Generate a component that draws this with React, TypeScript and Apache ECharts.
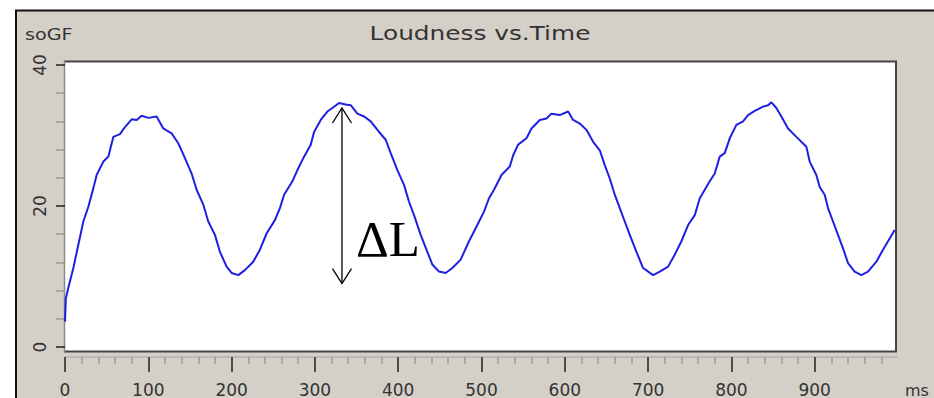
import React, { useEffect, useRef } from "react";
import * as echarts from "echarts";

// Loudness trace (soGF) sampled along time (ms)
const timeMs = [
  0, 1, 4, 10, 16, 22, 28, 34, 38, 46, 52, 58, 66, 72, 80, 86, 92, 100, 110, 118,
  128, 136, 144, 152, 158, 166, 172, 180, 186, 194, 200, 208, 216, 226, 234, 242, 252, 258, 263, 273,
  279, 287, 295, 299, 307, 315, 321, 329, 337, 343, 351, 359, 367, 377, 385, 391, 399, 407, 413, 419,
  427, 435, 441, 449, 457, 465, 475, 485, 495, 503, 509, 515, 524, 534, 538, 544, 554, 560, 570, 578,
  584, 594, 604, 610, 618, 626, 634, 642, 648, 654, 660, 666, 672, 678, 686, 694, 706, 714, 724, 732,
  740, 748, 756, 762, 768, 774, 780, 786, 792, 798, 806, 814, 820, 828, 838, 844, 848, 854, 860, 868,
  878, 890, 894, 902, 906, 912, 916, 922, 928, 934, 940, 948, 956, 964, 974, 982, 990, 996,
];
const loudness = [
  3.6, 6.9, 8.4, 11.2, 14.5, 17.8, 19.9, 22.5, 24.4, 26.3, 27.0, 29.8, 30.2, 31.2, 32.3, 32.2, 32.8, 32.5, 32.7, 31.0,
  30.3, 28.9, 26.8, 24.6, 22.3, 20.2, 17.8, 15.9, 13.5, 11.4, 10.5, 10.2, 10.9, 12.1, 13.8, 16.1, 18.0, 19.7, 21.6, 23.5,
  25.1, 27.0, 28.7, 30.5, 32.2, 33.4, 33.9, 34.6, 34.4, 34.3, 33.1, 32.7, 32.0, 30.5, 29.4, 27.5, 25.1, 23.0, 20.6, 18.7,
  15.9, 13.5, 11.7, 10.7, 10.5, 11.2, 12.4, 15.0, 17.3, 19.2, 21.1, 22.3, 24.4, 25.6, 27.2, 28.7, 29.6, 31.0, 32.2, 32.4,
  33.1, 32.9, 33.4, 32.2, 31.7, 30.8, 29.1, 27.9, 25.8, 23.9, 21.6, 19.7, 17.8, 15.9, 13.5, 11.2, 10.2, 10.7, 11.4, 13.1,
  15.0, 17.3, 18.7, 21.1, 22.3, 23.5, 24.6, 27.0, 27.5, 29.6, 31.5, 32.0, 32.9, 33.5, 34.1, 34.3, 34.7, 33.9, 32.7, 31.0,
  29.8, 28.4, 26.3, 24.4, 22.7, 21.6, 19.7, 17.8, 15.9, 14.0, 11.9, 10.7, 10.2, 10.7, 12.1, 13.8, 15.4, 16.6,
];

// Axis tick values
const xTickValues = [0, 100, 200, 300, 400, 500, 600, 700, 800, 900];
const yTickValues = [0, 20, 40];

// ΔL annotation: time of the marked peak, peak level, trough level, label level
const deltaTime = [332.5];
const deltaTop = [33.9];
const deltaBottom = [9.0];
const deltaLabelLevel = [15.3];

const PANEL = "#d4d0c8";
const TEXT = "#333333";

export default function App() {
  const ref = useRef<HTMLDivElement>(null);

  useEffect(() => {
    if (!ref.current) return;
    const chart = echarts.init(ref.current, null, { renderer: "svg" });

    const linePoints = timeMs.map((t, i) => [t, loudness[i]]);
    const deltaData = deltaTime.map((t, i) => [t, deltaTop[i], deltaBottom[i], deltaLabelLevel[i]]);

    const option: any = {
      animation: false,
      backgroundColor: "#ffffff",
      grid: { left: 65, right: 36, top: 65, bottom: 51, containLabel: false },
      xAxis: {
        type: "value",
        min: 0,
        max: 1000,
        interval: 100,
        offset: 10,
        axisLine: { show: true, onZero: false, lineStyle: { color: "#b4b4b4", width: 1.5 } },
        axisTick: {
          show: true,
          length: 15,
          customValues: xTickValues,
          lineStyle: { color: "#2a2a2a", width: 1.6 },
        },
        minorTick: { show: true, splitNumber: 5, length: 7, lineStyle: { color: "#9a9a9a", width: 1.5 } },
        axisLabel: {
          show: true,
          customValues: xTickValues,
          margin: 24,
          fontSize: 17,
          fontFamily: "DejaVu Sans",
          color: TEXT,
        },
        splitLine: { show: false },
        minorSplitLine: { show: false },
      },
      yAxis: {
        type: "value",
        min: 0,
        max: 40,
        interval: 20,
        axisLine: { show: false, onZero: false },
        axisTick: {
          show: true,
          length: 9,
          customValues: yTickValues,
          lineStyle: { color: "#2a2a2a", width: 1.6 },
        },
        minorTick: { show: true, splitNumber: 5, length: 9, lineStyle: { color: "#9a9a9a", width: 1.5 } },
        axisLabel: {
          show: true,
          customValues: yTickValues,
          rotate: 90,
          margin: 17,
          fontSize: 17,
          fontFamily: "DejaVu Sans",
          color: TEXT,
        },
        splitLine: { show: false },
        minorSplitLine: { show: false },
      },
      graphic: [
        // window panel
        { type: "rect", z: -10, shape: { x: 16, y: 10, width: 918, height: 388 }, style: { fill: PANEL } },
        { type: "line", z: -9, shape: { x1: 15, y1: 10.5, x2: 934, y2: 10.5 }, style: { stroke: "#111", lineWidth: 2 } },
        { type: "line", z: -9, shape: { x1: 16, y1: 10, x2: 16, y2: 398 }, style: { stroke: "#111", lineWidth: 2 } },
        // plot area
        { type: "rect", z: -8, shape: { x: 64, y: 61, width: 833, height: 291 }, style: { fill: "#ffffff" } },
        { type: "line", z: -7, shape: { x1: 64, y1: 61.5, x2: 897, y2: 61.5 }, style: { stroke: "#444", lineWidth: 2 } },
        { type: "line", z: -7, shape: { x1: 896, y1: 61, x2: 896, y2: 352 }, style: { stroke: "#444", lineWidth: 2 } },
        { type: "line", z: -7, shape: { x1: 64, y1: 351.5, x2: 897, y2: 351.5 }, style: { stroke: "#444", lineWidth: 2 } },
        { type: "line", z: -7, shape: { x1: 64.5, y1: 61, x2: 64.5, y2: 352 }, style: { stroke: "#8a8a8a", lineWidth: 1.5 } },
        // titles
        {
          type: "text",
          z: 5,
          x: 480,
          y: 33,
          scaleX: 1.24,
          style: {
            text: "Loudness vs.Time",
            font: '20px "DejaVu Sans"',
            fill: TEXT,
            textAlign: "center",
            textVerticalAlign: "middle",
            align: "center",
            verticalAlign: "middle",
          },
        },
        {
          type: "text",
          z: 5,
          x: 25,
          y: 35,
          scaleX: 1.2,
          style: {
            text: "soGF",
            font: '16px "DejaVu Sans"',
            fill: TEXT,
            textAlign: "left",
            textVerticalAlign: "middle",
            align: "left",
            verticalAlign: "middle",
          },
        },
        {
          type: "text",
          z: 5,
          x: 905,
          y: 390,
          style: {
            text: "ms",
            font: '16px "DejaVu Sans"',
            fill: TEXT,
            textAlign: "left",
            textVerticalAlign: "middle",
            align: "left",
            verticalAlign: "middle",
          },
        },
      ],
      series: [
        {
          type: "line",
          data: linePoints,
          showSymbol: false,
          symbol: "none",
          z: 3,
          lineStyle: { color: "#1f1fe2", width: 2 },
        },
        {
          type: "custom",
          z: 10,
          silent: true,
          clip: false,
          data: deltaData,
          encode: { x: 0, y: [1, 2] },
          renderItem: (_params: any, api: any) => {
            const t = api.coord([api.value(0), api.value(1)]);
            const b = api.coord([api.value(0), api.value(2)]);
            const l = api.coord([api.value(0), api.value(3)]);
            const stroke = { stroke: "#000", lineWidth: 1.3, fill: "none" };
            return {
              type: "group",
              children: [
                { type: "line", shape: { x1: t[0], y1: t[1], x2: b[0], y2: b[1] }, style: stroke },
                {
                  type: "polyline",
                  shape: { points: [[t[0] - 9.5, t[1] + 15], [t[0], t[1]], [t[0] + 9.5, t[1] + 15]] },
                  style: stroke,
                },
                {
                  type: "polyline",
                  shape: { points: [[b[0] - 9.5, b[1] - 15], [b[0], b[1]], [b[0] + 9.5, b[1] - 15]] },
                  style: stroke,
                },
                {
                  type: "text",
                  x: l[0] + 14,
                  y: l[1],
                  style: {
                    text: "ΔL",
                    font: '51px "Liberation Serif"',
                    fill: "#000",
                    textAlign: "left",
                    textVerticalAlign: "middle",
                    align: "left",
                    verticalAlign: "middle",
                  },
                },
              ],
            };
          },
        },
      ],
    };

    chart.setOption(option);
    return () => chart.dispose();
  }, []);

  return (
    <div
      ref={ref}
      style={{ position: "absolute", left: 0, top: 0, width: 934, height: 398 }}
    />
  );
}
